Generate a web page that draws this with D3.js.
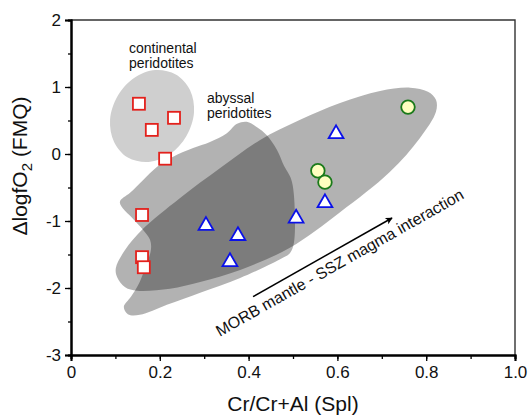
<html>
<head>
<meta charset="utf-8">
<script src="https://d3js.org/d3.v7.min.js"></script>
<style>
  body { margin: 0; background: #fff; }
  text { font-family: "Liberation Sans", Arial, sans-serif; fill: #111; }
</style>
</head>
<body>
<div id="chart"></div>
<script>

// x ticks and y ticks
var xTicks = [0, 0.2, 0.4, 0.6, 0.8, 1.0];
var xTickLabels = ["0", "0.2", "0.4", "0.6", "0.8", "1.0"];
var yTicks = [-3, -2, -1, 0, 1, 2];
var yTickLabels = ["-3", "-2", "-1", "0", "1", "2"];

// sample points: [Cr#, dlogfO2]
var squares = [[0.153, 0.75], [0.182, 0.36], [0.232, 0.54], [0.212, -0.07],
               [0.160, -0.91], [0.160, -1.54], [0.164, -1.69]];
var triangles = [[0.597, 0.30], [0.572, -0.73], [0.507, -0.96],
                 [0.304, -1.07], [0.376, -1.22], [0.358, -1.61]];
var circles = [[0.759, 0.70], [0.556, -0.25], [0.572, -0.42]];

// field outlines
var continental = [[0.236, 1.188], [0.268, 0.955], [0.277, 0.619], [0.260, 0.269],
                   [0.223, -0.001], [0.175, -0.119], [0.128, -0.054], [0.097, 0.179],
                   [0.088, 0.515], [0.105, 0.866], [0.142, 1.136], [0.190, 1.254]];
var sszField = [[0.104, -1.84], [0.122, -1.99], [0.149, -2.04], [0.223, -2.01],
                [0.291, -1.91], [0.381, -1.73], [0.493, -1.40], [0.606, -0.87],
                [0.718, -0.27], [0.786, 0.24], [0.822, 0.63], [0.822, 0.81],
                [0.804, 0.93], [0.764, 0.99], [0.696, 0.94], [0.606, 0.76],
                [0.516, 0.51], [0.426, 0.21], [0.336, -0.21], [0.245, -0.66],
                [0.160, -1.13], [0.122, -1.43], [0.101, -1.70]];
var abyssal = [[0.110, -0.72], [0.133, -0.58], [0.162, -0.39], [0.194, -0.19],
               [0.230, -0.04], [0.275, 0.09], [0.313, 0.18], [0.351, 0.31],
               [0.374, 0.45], [0.396, 0.48], [0.419, 0.40], [0.441, 0.28],
               [0.464, 0.06], [0.480, -0.18], [0.495, -0.36], [0.502, -0.61],
               [0.502, -1.33], [0.493, -1.48], [0.471, -1.57], [0.381, -1.85],
               [0.291, -2.07], [0.216, -2.25], [0.155, -2.40], [0.128, -2.39],
               [0.119, -2.28], [0.135, -2.13], [0.151, -1.96], [0.167, -1.70],
               [0.180, -1.43], [0.178, -1.28], [0.162, -1.13], [0.140, -0.97]];

// arrow start/end and label anchor
var arrowPts = [[0.410, -2.13], [0.723, -0.955]];
var arrowLabel = [0.335, -2.73];

var W = 528, H = 417;
var svg = d3.select("#chart").append("svg")
  .attr("width", W).attr("height", H);

var x = d3.scaleLinear().domain([0, 1]).range([71, 515]);
var y = d3.scaleLinear().domain([-3, 2]).range([355, 20]);

var outline = d3.line()
  .x(function(d) { return x(d[0]); })
  .y(function(d) { return y(d[1]); })
  .curve(d3.curveCatmullRomClosed.alpha(0.5));

// fields
svg.append("path").attr("d", outline(continental)).attr("fill", "#cfcfcf");
svg.append("path").attr("d", outline(sszField)).attr("fill", "#000").attr("fill-opacity", 0.3);
svg.append("path").attr("d", outline(abyssal)).attr("fill", "#000").attr("fill-opacity", 0.3);

// frame top/right
svg.append("path")
  .attr("d", "M" + x(0) + "," + y(2) + "H" + x(1) + "V" + y(-3))
  .attr("fill", "none").attr("stroke", "#333").attr("stroke-width", 1.4);

// axes
var xAxis = svg.append("g")
  .attr("transform", "translate(0," + y(-3) + ")")
  .call(d3.axisBottom(x).tickValues(d3.range(0, 1.0001, 0.1)).tickSize(4)
    .tickFormat(""));
xAxis.append("g").call(d3.axisBottom(x).tickValues(xTicks).tickSize(6).tickPadding(5)
    .tickFormat(function(d, i) { return xTickLabels[i]; }));

var yAxis = svg.append("g")
  .attr("transform", "translate(" + x(0) + ",0)")
  .call(d3.axisLeft(y).tickValues(d3.range(-3, 2.001, 0.5)).tickSize(3).tickFormat(""));
yAxis.append("g").call(d3.axisLeft(y).tickValues(yTicks).tickSize(6).tickPadding(4)
    .tickFormat(function(d, i) { return yTickLabels[i]; }));

svg.selectAll(".domain").attr("stroke", "#000").attr("stroke-width", 2);
svg.selectAll(".tick line").attr("stroke", "#000").attr("stroke-width", 1.3);
svg.selectAll(".tick text")
  .style("font-family", "Liberation Sans, Arial, sans-serif")
  .style("font-size", "17px").attr("fill", "#111");

// axis titles
svg.append("text")
  .attr("x", x(0.5)).attr("y", 411)
  .attr("text-anchor", "middle").style("font-size", "21px")
  .text("Cr/Cr+Al (Spl)");

var yt = svg.append("text")
  .attr("transform", "translate(27,166) rotate(-90)")
  .attr("text-anchor", "middle").style("font-size", "21px");
yt.append("tspan").text("\u0394logfO");
yt.append("tspan").attr("dy", 5).style("font-size", "15px").text("2");
yt.append("tspan").attr("dy", -5).text(" (FMQ)");

// field labels
var lab1 = svg.append("text").attr("x", 129).attr("y", 53).style("font-size", "14px");
lab1.append("tspan").attr("x", 129).text("continental");
lab1.append("tspan").attr("x", 129).attr("dy", 15).text("peridotites");
var lab2 = svg.append("text").attr("x", 207).attr("y", 103).style("font-size", "14px");
lab2.append("tspan").attr("x", 207).text("abyssal");
lab2.append("tspan").attr("x", 207).attr("dy", 15).text("peridotites");

// arrow
svg.append("defs").append("marker")
  .attr("id", "ah").attr("viewBox", "0 0 10 10").attr("refX", 9).attr("refY", 5)
  .attr("markerWidth", 9).attr("markerHeight", 7).attr("orient", "auto")
  .attr("markerUnits", "userSpaceOnUse")
  .append("path").attr("d", "M0,0L10,5L0,10L2.5,5Z").attr("fill", "#000");
svg.append("line")
  .attr("x1", x(arrowPts[0][0])).attr("y1", y(arrowPts[0][1]))
  .attr("x2", x(arrowPts[1][0])).attr("y2", y(arrowPts[1][1]))
  .attr("stroke", "#000").attr("stroke-width", 1.5).attr("marker-end", "url(#ah)");

var ang = Math.atan2(y(arrowPts[1][1]) - y(arrowPts[0][1]),
                     x(arrowPts[1][0]) - x(arrowPts[0][0])) * 180 / Math.PI;
svg.append("text")
  .attr("transform", "translate(" + x(arrowLabel[0]) + "," + y(arrowLabel[1]) + ") rotate(" + ang + ")")
  .style("font-size", "16px")
  .text("MORB mantle - SSZ magma interaction");

// symbols
svg.selectAll(".sq").data(squares).enter().append("rect")
  .attr("x", function(d) { return x(d[0]) - 6; })
  .attr("y", function(d) { return y(d[1]) - 6; })
  .attr("width", 12).attr("height", 12)
  .attr("fill", "#fff").attr("stroke", "#e3211c").attr("stroke-width", 1.8);

svg.selectAll(".tri").data(triangles).enter().append("path")
  .attr("d", d3.symbol(d3.symbolTriangle, 95))
  .attr("transform", function(d) { return "translate(" + x(d[0]) + "," + y(d[1]) + ")"; })
  .attr("fill", "#fff").attr("stroke", "#0a10e8").attr("stroke-width", 1.8);

svg.selectAll(".ci").data(circles).enter().append("circle")
  .attr("cx", function(d) { return x(d[0]); })
  .attr("cy", function(d) { return y(d[1]); })
  .attr("r", 6.8)
  .attr("fill", "#ffffc0").attr("stroke", "#1a7a1a").attr("stroke-width", 1.8);

</script>
</body>
</html>
